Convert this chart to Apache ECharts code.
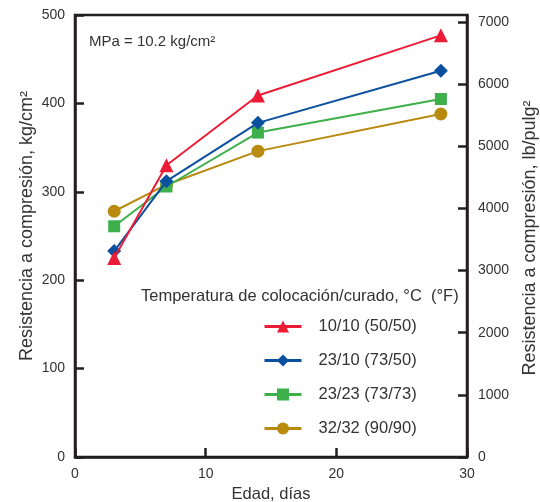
<!DOCTYPE html>
<html>
<head>
<meta charset="utf-8">
<script src="https://cdn.jsdelivr.net/npm/echarts@6/dist/echarts.min.js"></script>
<style>
  html, body { margin: 0; padding: 0; background: #fff; }
  #chart { width: 540px; height: 502px; }
</style>
</head>
<body>
<div id="chart"></div>
<script>
// edad en días
const ages = [3, 7, 14, 28];
// resistencia, kg/cm2
const s1010 = [225, 330, 409, 477];
const s2310 = [233, 312, 378, 437];
const s2323 = [261, 306, 367, 405];
const s3232 = [278, 308, 346, 388];

const seriesNames = ['10/10 (50/50)', '23/10 (73/50)', '23/23 (73/73)', '32/32 (90/90)'];
const seriesValues = [s1010, s2310, s2323, s3232];
const seriesColors = ['#ec1c36', '#0b4f9f', '#3db04b', '#b88a0e'];
const seriesSymbols = ['triangle', 'diamond', 'rect', 'circle'];
const symbolSizes = [14, 14, 12, 13];

const font = '"Liberation Sans", Arial, sans-serif';
const txt = '#333';
const ink = '#231f20';
const KG_TO_PSI = 14.223;

const chart = echarts.init(document.getElementById('chart'));

const series = seriesNames.map((name, i) => ({
  name,
  type: 'line',
  data: ages.map((a, k) => [a, seriesValues[i][k]]),
  symbol: seriesSymbols[i],
  symbolSize: symbolSizes[i],
  lineStyle: { color: seriesColors[i], width: 2 },
  itemStyle: { color: seriesColors[i] },
  z: 10 - i
}));

const axisLine = { show: true, lineStyle: { color: ink, width: 2.5 } };
const axisTick = { show: true, inside: true, length: 9, lineStyle: { color: ink, width: 2.5 } };
const label = { color: txt, fontSize: 14, fontFamily: font };

chart.setOption({
  animation: false,
  grid: {
    left: 75, right: 73, top: 15, bottom: 45,
    outerBoundsMode: 'none',
    containLabel: false,
    show: true, borderColor: ink, borderWidth: 2.5
  },
  xAxis: {
    type: 'value',
    min: 0, max: 30, interval: 10,
    axisLine, axisTick,
    axisLabel: { ...label, margin: 10 },
    splitLine: { show: false },
    name: 'Edad, días',
    nameLocation: 'middle',
    nameGap: 29,
    nameMoveOverlap: false,
    nameTextStyle: { color: txt, fontSize: 16.5, fontFamily: font, verticalAlign: 'top' }
  },
  yAxis: [
    {
      type: 'value',
      min: 0, max: 500, interval: 100,
      axisLine, axisTick,
      axisLabel: { ...label, margin: 10 },
      splitLine: { show: false }
    },
    {
      type: 'value',
      position: 'right',
      min: 0, max: 500 * KG_TO_PSI, interval: 1000,
      axisLine, axisTick,
      axisLabel: { ...label, margin: 11, showMaxLabel: false, formatter: v => String(v) },
      splitLine: { show: false }
    }
  ],
  legend: {
    orient: 'vertical',
    left: 263,
    top: 318,
    padding: 0,
    itemWidth: 37,
    itemHeight: 15,
    itemGap: 17,
    lineStyle: { width: 3 },
    data: seriesNames,
    textStyle: { color: txt, fontSize: 16.5, fontFamily: font, padding: [0, 0, 0, 12] }
  },
  graphic: [
    {
      type: 'text', x: 89, y: 42,
      style: { text: 'MPa = 10.2 kg/cm²', fill: txt, font: '15px ' + font, verticalAlign: 'middle' }
    },
    {
      type: 'text', x: 141, y: 296,
      style: { text: 'Temperatura de colocación/curado, °C  (°F)', fill: txt, font: '16.5px ' + font, verticalAlign: 'middle' }
    },
    {
      type: 'text', x: 27, y: 226, rotation: Math.PI / 2,
      style: { text: 'Resistencia a compresión, kg/cm²', fill: txt, font: '18px ' + font, align: 'center', verticalAlign: 'middle' }
    },
    {
      type: 'text', x: 530, y: 238, rotation: Math.PI / 2,
      style: { text: 'Resistencia a compresión, lb/pulg²', fill: txt, font: '18px ' + font, align: 'center', verticalAlign: 'middle' }
    }
  ],
  series
});
</script>
</body>
</html>
